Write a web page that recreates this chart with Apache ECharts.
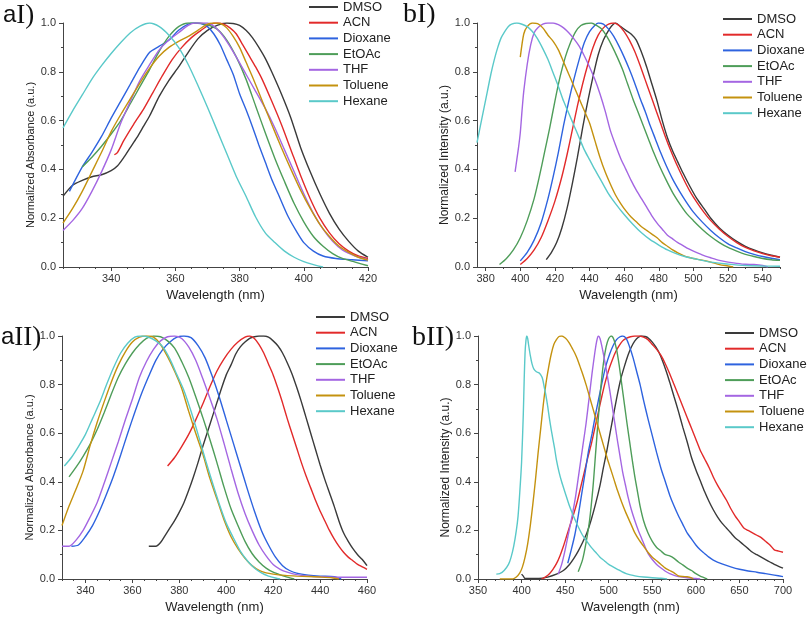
<!DOCTYPE html>
<html>
<head>
<meta charset="utf-8">
<script src="https://cdn.jsdelivr.net/npm/echarts@6/dist/echarts.min.js"></script>
<style>
html,body{margin:0;padding:0;background:#fff;}
#chart{width:808px;height:620px;}
</style>
</head>
<body>
<div id="chart"></div>
<script>
// ---------- categories ----------
const solvents = ['DMSO','ACN','Dioxane','EtOAc','THF','Toluene','Hexane'];

// ---------- tick labels ----------
const yTicks = [0,0.2,0.4,0.6,0.8,1.0];
const aI_xTicks = [340,360,380,400,420];
const aI_xMinor = [325,330,335,345,350,355,365,370,375,385,390,395,405,410,415];
const bI_xTicks = [380,400,420,440,460,480,500,520,540];
const bI_xMinor = [390,410,430,450,470,490,510,530,550];
const aII_xTicks = [340,360,380,400,420,440,460];
const aII_xMinor = [330,335,345,350,355,365,370,375,385,390,395,405,410,415,425,430,435,445,450,455];
const bII_xTicks = [350,400,450,500,550,600,650,700];
const bII_xMinor = [360,370,380,390,410,420,430,440,460,470,480,490,510,520,530,540,560,570,580,590,610,620,630,640,660,670,680,690];

// ---------- panel aI : normalized absorbance ----------
const aI_DMSO = [[325,0.29],[328,0.335],[331,0.355],[334,0.37],[337,0.378],[340,0.395],[342,0.415],[344,0.45],[346,0.49],[348,0.53],[350,0.575],[352,0.62],[355,0.7],[358,0.765],[361,0.82],[364,0.88],[367,0.935],[370,0.97],[373,0.99],[376,1.0],[378,0.998],[380,0.99],[382,0.97],[384,0.94],[386,0.9],[388,0.855],[390,0.8],[393,0.71],[396,0.61],[399,0.49],[402,0.39],[405,0.3],[408,0.22],[411,0.155],[414,0.105],[417,0.065],[420,0.04]];
const aI_ACN = [[341,0.46],[342,0.47],[344,0.52],[347,0.585],[350,0.645],[353,0.715],[356,0.785],[359,0.85],[362,0.9],[365,0.94],[368,0.97],[371,0.995],[373,1.0],[375,0.995],[377,0.98],[379,0.955],[381,0.91],[383,0.865],[385,0.82],[387,0.77],[390,0.68],[393,0.585],[396,0.48],[399,0.375],[402,0.28],[405,0.2],[408,0.14],[411,0.095],[414,0.065],[417,0.045],[420,0.035]];
const aI_Dioxane = [[327,0.31],[331,0.41],[334,0.47],[337,0.535],[340,0.61],[343,0.68],[346,0.75],[349,0.82],[352,0.88],[355,0.905],[358,0.93],[361,0.97],[364,0.995],[366,1.0],[368,0.998],[370,0.985],[372,0.955],[374,0.91],[376,0.85],[378,0.79],[380,0.71],[382,0.645],[384,0.575],[386,0.5],[388,0.43],[390,0.36],[392,0.3],[395,0.21],[398,0.14],[400,0.1],[403,0.065],[406,0.045],[410,0.035],[415,0.03],[420,0.025]];
const aI_EtOAc = [[331,0.41],[334,0.45],[337,0.495],[340,0.545],[343,0.6],[346,0.67],[349,0.74],[352,0.81],[355,0.885],[358,0.945],[361,0.985],[364,1.0],[367,1.0],[370,0.993],[373,0.975],[376,0.93],[379,0.86],[382,0.77],[385,0.66],[388,0.55],[391,0.445],[394,0.35],[397,0.26],[400,0.185],[403,0.125],[406,0.085],[409,0.055],[412,0.035],[416,0.02],[420,0.005]];
const aI_THF = [[325,0.15],[328,0.19],[331,0.24],[334,0.31],[337,0.39],[340,0.48],[343,0.59],[346,0.68],[349,0.765],[352,0.83],[355,0.89],[358,0.93],[361,0.96],[364,0.99],[366,1.0],[370,1.0],[373,0.975],[376,0.925],[379,0.86],[382,0.79],[385,0.72],[388,0.65],[391,0.57],[394,0.48],[397,0.39],[400,0.3],[403,0.22],[406,0.155],[409,0.105],[412,0.07],[416,0.045],[420,0.03]];
const aI_Toluene = [[325,0.18],[328,0.24],[331,0.31],[334,0.39],[337,0.47],[340,0.555],[343,0.625],[346,0.69],[349,0.755],[352,0.815],[355,0.865],[358,0.9],[361,0.925],[364,0.945],[367,0.97],[370,0.995],[372,1.0],[374,0.998],[376,0.98],[378,0.945],[380,0.9],[382,0.84],[384,0.78],[386,0.715],[388,0.65],[390,0.585],[393,0.49],[396,0.4],[399,0.315],[402,0.24],[405,0.175],[408,0.125],[411,0.085],[414,0.06],[417,0.04],[420,0.028]];
const aI_Hexane = [[325,0.57],[328,0.64],[331,0.705],[334,0.77],[337,0.825],[340,0.875],[343,0.92],[346,0.96],[349,0.987],[352,1.0],[355,0.985],[358,0.95],[361,0.9],[364,0.83],[367,0.745],[370,0.655],[373,0.56],[376,0.465],[379,0.37],[382,0.29],[385,0.205],[388,0.14],[391,0.1],[394,0.065],[397,0.04],[400,0.022],[403,0.01],[406,0.0]];

// ---------- panel bI : normalized emission ----------
const bI_DMSO = [[415,0.03],[418,0.06],[421,0.1],[424,0.16],[427,0.24],[430,0.34],[433,0.45],[436,0.57],[439,0.68],[442,0.78],[445,0.87],[448,0.93],[451,0.97],[453,0.99],[455,1.0],[458,0.985],[461,0.97],[464,0.955],[467,0.93],[470,0.88],[473,0.82],[476,0.75],[479,0.68],[482,0.6],[485,0.53],[488,0.475],[491,0.43],[494,0.385],[498,0.33],[502,0.28],[506,0.24],[510,0.2],[515,0.16],[520,0.13],[525,0.105],[530,0.085],[535,0.07],[540,0.058],[545,0.048],[550,0.04]];
const bI_ACN = [[400,0.01],[404,0.035],[408,0.07],[412,0.12],[416,0.19],[420,0.27],[424,0.37],[427,0.46],[430,0.56],[433,0.66],[436,0.75],[439,0.83],[442,0.9],[445,0.95],[448,0.98],[451,0.995],[454,1.0],[457,0.99],[460,0.965],[463,0.93],[466,0.885],[469,0.83],[472,0.77],[475,0.71],[478,0.65],[481,0.59],[484,0.53],[487,0.475],[490,0.425],[494,0.365],[498,0.31],[502,0.265],[506,0.225],[510,0.19],[515,0.155],[520,0.125],[525,0.1],[530,0.08],[535,0.066],[540,0.055],[545,0.046],[550,0.04]];
const bI_Dioxane = [[400,0.025],[404,0.06],[408,0.11],[412,0.18],[416,0.28],[419,0.37],[422,0.47],[425,0.58],[428,0.68],[431,0.77],[434,0.85],[437,0.92],[440,0.965],[443,0.99],[445,1.0],[448,0.995],[451,0.975],[454,0.945],[457,0.905],[460,0.86],[463,0.81],[466,0.755],[469,0.695],[472,0.64],[475,0.58],[478,0.525],[481,0.47],[484,0.42],[488,0.36],[492,0.31],[496,0.265],[500,0.225],[505,0.185],[510,0.15],[515,0.12],[520,0.095],[525,0.078],[530,0.063],[535,0.052],[540,0.043],[545,0.036],[550,0.03]];
const bI_EtOAc = [[388,0.01],[392,0.035],[396,0.07],[400,0.12],[404,0.19],[408,0.28],[411,0.37],[414,0.47],[417,0.57],[420,0.68],[423,0.78],[426,0.86],[429,0.92],[432,0.965],[435,0.99],[438,0.998],[441,1.0],[444,0.99],[447,0.975],[450,0.945],[453,0.905],[456,0.86],[459,0.81],[462,0.75],[465,0.69],[468,0.635],[471,0.58],[474,0.525],[477,0.47],[480,0.42],[484,0.36],[488,0.305],[492,0.26],[496,0.22],[500,0.19],[505,0.155],[510,0.125],[515,0.1],[520,0.08],[525,0.065],[530,0.052],[535,0.043],[540,0.035],[545,0.03],[550,0.027]];
const bI_THF = [[397,0.39],[398,0.44],[399,0.49],[400,0.55],[401,0.64],[402,0.72],[404,0.83],[406,0.91],[408,0.96],[410,0.98],[413,0.995],[416,1.0],[419,1.0],[422,0.993],[425,0.98],[428,0.96],[431,0.935],[434,0.905],[437,0.865],[440,0.82],[443,0.77],[446,0.71],[449,0.64],[452,0.56],[455,0.5],[458,0.445],[461,0.4],[464,0.355],[467,0.315],[470,0.28],[473,0.245],[476,0.21],[479,0.18],[482,0.155],[485,0.13],[488,0.115],[491,0.1],[494,0.088],[497,0.075],[500,0.065],[505,0.05],[510,0.038],[515,0.027],[520,0.02],[525,0.015],[530,0.011],[535,0.01],[540,0.006],[543,0.0]];
const bI_Toluene = [[400,0.86],[402,0.955],[404,0.985],[407,1.0],[410,0.997],[413,0.98],[416,0.95],[419,0.925],[422,0.89],[425,0.84],[428,0.79],[431,0.74],[434,0.69],[437,0.64],[440,0.59],[443,0.52],[446,0.45],[449,0.39],[452,0.34],[455,0.295],[458,0.26],[461,0.23],[464,0.205],[467,0.185],[470,0.165],[473,0.15],[476,0.135],[479,0.12],[482,0.1],[485,0.085],[488,0.07],[491,0.058],[494,0.048],[497,0.04],[500,0.035],[505,0.028],[510,0.02],[515,0.01],[520,0.004],[523,0.0]];
const bI_Hexane = [[375,0.51],[377,0.58],[379,0.65],[381,0.72],[383,0.79],[385,0.85],[387,0.9],[389,0.94],[391,0.965],[393,0.985],[395,0.995],[398,1.0],[401,0.995],[404,0.985],[407,0.965],[410,0.935],[413,0.895],[416,0.85],[419,0.795],[422,0.74],[425,0.68],[428,0.63],[431,0.58],[434,0.53],[437,0.48],[440,0.44],[443,0.4],[447,0.35],[451,0.3],[455,0.26],[460,0.215],[465,0.175],[470,0.14],[475,0.112],[480,0.09],[485,0.07],[490,0.055],[495,0.043],[500,0.035],[510,0.02],[520,0.012],[530,0.006],[540,0.004],[550,0.003]];

// ---------- panel aII : normalized absorbance ----------
const aII_DMSO = [[367,0.135],[370,0.135],[372,0.15],[374,0.18],[376,0.21],[378,0.24],[380,0.275],[382,0.315],[384,0.365],[386,0.42],[388,0.48],[390,0.545],[392,0.605],[394,0.665],[396,0.725],[398,0.785],[400,0.84],[402,0.88],[404,0.925],[406,0.955],[408,0.975],[410,0.99],[412,0.997],[414,1.0],[416,1.0],[418,0.995],[420,0.98],[422,0.96],[424,0.93],[426,0.89],[428,0.845],[430,0.79],[432,0.73],[434,0.665],[436,0.6],[438,0.535],[440,0.47],[442,0.41],[444,0.355],[446,0.3],[448,0.24],[450,0.19],[452,0.155],[454,0.125],[456,0.1],[458,0.08],[460,0.055]];
const aII_ACN = [[375,0.465],[378,0.5],[381,0.545],[384,0.595],[387,0.655],[390,0.72],[393,0.79],[396,0.855],[399,0.905],[402,0.945],[405,0.975],[408,0.995],[410,1.0],[412,0.99],[414,0.965],[416,0.93],[418,0.885],[420,0.84],[422,0.785],[424,0.725],[426,0.66],[428,0.6],[430,0.54],[432,0.48],[434,0.425],[436,0.375],[438,0.325],[440,0.28],[442,0.24],[444,0.2],[446,0.165],[448,0.135],[450,0.11],[452,0.09],[454,0.075],[456,0.06],[458,0.05],[460,0.04]];
const aII_Dioxane = [[334,0.135],[337,0.14],[340,0.175],[343,0.22],[346,0.28],[349,0.35],[352,0.425],[355,0.51],[358,0.6],[361,0.685],[364,0.765],[367,0.835],[370,0.9],[373,0.945],[376,0.975],[379,0.995],[382,1.0],[385,0.993],[388,0.96],[391,0.91],[394,0.835],[397,0.75],[400,0.655],[403,0.56],[406,0.465],[409,0.37],[412,0.28],[415,0.2],[418,0.14],[421,0.09],[424,0.055],[427,0.035],[430,0.024],[435,0.016],[440,0.012],[446,0.01],[449,0.0]];
const aII_EtOAc = [[333,0.42],[336,0.46],[339,0.505],[342,0.555],[345,0.615],[348,0.685],[351,0.76],[354,0.83],[357,0.885],[360,0.93],[363,0.965],[366,0.99],[369,1.0],[372,0.997],[375,0.98],[378,0.95],[381,0.895],[384,0.83],[387,0.75],[390,0.665],[393,0.575],[396,0.48],[399,0.38],[402,0.29],[405,0.22],[408,0.155],[411,0.105],[414,0.07],[417,0.045],[420,0.028],[423,0.017],[426,0.008],[429,0.0]];
const aII_THF = [[330,0.135],[333,0.135],[336,0.16],[339,0.2],[342,0.255],[345,0.315],[348,0.395],[351,0.48],[354,0.565],[357,0.655],[360,0.74],[363,0.83],[366,0.895],[369,0.945],[372,0.98],[375,0.997],[378,1.0],[381,0.99],[384,0.955],[387,0.9],[390,0.825],[393,0.745],[396,0.66],[399,0.56],[402,0.455],[405,0.355],[408,0.27],[411,0.2],[414,0.14],[417,0.095],[420,0.06],[423,0.04],[426,0.028],[430,0.018],[435,0.012],[440,0.009],[450,0.007],[460,0.007]];
const aII_Toluene = [[330,0.22],[333,0.3],[336,0.37],[339,0.445],[342,0.55],[345,0.645],[348,0.73],[351,0.81],[354,0.88],[357,0.935],[360,0.975],[363,0.995],[366,1.0],[369,0.995],[372,0.965],[375,0.915],[378,0.855],[381,0.785],[384,0.69],[387,0.6],[390,0.515],[393,0.415],[396,0.33],[399,0.245],[402,0.175],[405,0.125],[408,0.085],[411,0.055],[414,0.035],[417,0.025],[420,0.02],[425,0.015],[430,0.012],[435,0.01],[440,0.008],[445,0.005],[448,0.0]];
const aII_Hexane = [[331,0.465],[334,0.5],[337,0.545],[340,0.595],[343,0.66],[346,0.725],[349,0.8],[352,0.87],[355,0.93],[358,0.97],[361,0.995],[364,1.0],[367,0.995],[370,0.98],[373,0.955],[376,0.905],[379,0.84],[382,0.775],[385,0.69],[388,0.595],[391,0.495],[394,0.4],[397,0.31],[400,0.23],[403,0.17],[406,0.115],[409,0.075],[412,0.045],[415,0.025],[418,0.012],[421,0.004],[423,0.0]];

// ---------- panel bII : normalized emission ----------
const bII_DMSO = [[400,0.02],[402,0.012],[404,0.002],[420,0.002],[430,0.008],[440,0.02],[448,0.035],[455,0.06],[460,0.085],[465,0.115],[470,0.15],[475,0.19],[480,0.245],[485,0.31],[490,0.385],[494,0.46],[498,0.53],[502,0.61],[506,0.685],[510,0.76],[514,0.825],[518,0.875],[522,0.92],[526,0.955],[530,0.98],[534,0.995],[538,1.0],[542,0.998],[546,0.99],[550,0.975],[554,0.955],[558,0.93],[562,0.895],[566,0.855],[570,0.81],[575,0.75],[580,0.69],[585,0.625],[590,0.565],[595,0.5],[600,0.45],[605,0.405],[610,0.36],[615,0.32],[620,0.285],[625,0.255],[630,0.23],[635,0.21],[640,0.19],[645,0.17],[650,0.155],[655,0.14],[660,0.125],[665,0.11],[670,0.1],[675,0.09],[680,0.08],[685,0.07],[690,0.06],[695,0.052],[700,0.045]];
const bII_ACN = [[423,0.0],[428,0.01],[432,0.022],[436,0.04],[440,0.063],[444,0.095],[448,0.135],[452,0.18],[456,0.225],[460,0.27],[464,0.32],[468,0.38],[472,0.44],[476,0.5],[480,0.555],[484,0.62],[488,0.685],[492,0.75],[496,0.81],[500,0.86],[504,0.9],[508,0.935],[512,0.96],[516,0.98],[520,0.99],[525,0.997],[530,1.0],[535,1.0],[540,0.995],[545,0.985],[550,0.965],[555,0.945],[560,0.92],[565,0.885],[570,0.845],[575,0.8],[580,0.755],[585,0.71],[590,0.665],[595,0.62],[600,0.575],[605,0.53],[610,0.495],[615,0.46],[620,0.42],[625,0.385],[630,0.355],[635,0.325],[640,0.29],[645,0.26],[650,0.235],[655,0.21],[660,0.2],[665,0.19],[670,0.18],[675,0.17],[680,0.155],[685,0.14],[690,0.12],[695,0.115],[700,0.11]];
const bII_Dioxane = [[453,0.065],[457,0.12],[461,0.18],[465,0.26],[469,0.35],[473,0.44],[477,0.53],[481,0.6],[485,0.68],[489,0.75],[493,0.82],[497,0.88],[501,0.925],[505,0.96],[509,0.985],[513,0.997],[516,1.0],[520,0.99],[524,0.955],[528,0.91],[532,0.855],[536,0.8],[540,0.735],[545,0.66],[550,0.59],[555,0.52],[560,0.455],[565,0.4],[570,0.345],[575,0.3],[580,0.26],[585,0.225],[590,0.19],[595,0.165],[600,0.14],[605,0.12],[610,0.105],[615,0.09],[620,0.078],[630,0.062],[640,0.05],[650,0.04],[660,0.033],[670,0.028],[680,0.022],[690,0.016],[700,0.01]];
const bII_EtOAc = [[465,0.03],[470,0.08],[474,0.15],[478,0.24],[482,0.38],[485,0.52],[488,0.66],[491,0.79],[494,0.89],[497,0.955],[500,0.99],[503,1.0],[506,0.985],[509,0.945],[512,0.88],[515,0.8],[518,0.72],[521,0.64],[524,0.565],[527,0.49],[530,0.42],[533,0.36],[536,0.3],[540,0.24],[545,0.19],[550,0.155],[555,0.13],[560,0.115],[565,0.1],[570,0.095],[575,0.085],[580,0.07],[585,0.058],[590,0.045],[595,0.035],[600,0.022],[605,0.012],[610,0.005],[613,0.0]];
const bII_THF = [[442,0.02],[446,0.06],[450,0.12],[454,0.19],[458,0.26],[462,0.34],[466,0.44],[470,0.54],[474,0.64],[478,0.76],[481,0.85],[484,0.93],[486,0.975],[488,1.0],[490,0.99],[492,0.96],[495,0.905],[498,0.845],[501,0.78],[504,0.71],[507,0.64],[510,0.57],[513,0.505],[516,0.44],[519,0.39],[522,0.34],[526,0.285],[530,0.24],[534,0.2],[538,0.165],[542,0.13],[546,0.1],[550,0.08],[555,0.06],[560,0.045],[565,0.032],[570,0.022],[575,0.015],[580,0.01],[590,0.005],[600,0.002],[605,0.0]];
const bII_Toluene = [[375,0.0],[390,0.0],[394,0.008],[398,0.025],[401,0.05],[404,0.09],[407,0.145],[410,0.22],[413,0.31],[416,0.41],[419,0.52],[422,0.62],[425,0.72],[428,0.805],[431,0.87],[434,0.925],[437,0.965],[440,0.985],[443,0.998],[446,1.0],[449,0.995],[452,0.985],[455,0.97],[458,0.95],[461,0.93],[464,0.905],[467,0.875],[470,0.845],[474,0.8],[478,0.75],[482,0.7],[486,0.65],[490,0.6],[494,0.55],[498,0.5],[502,0.455],[506,0.41],[510,0.365],[515,0.315],[520,0.27],[525,0.23],[530,0.19],[535,0.16],[540,0.135],[545,0.11],[550,0.09],[555,0.075],[560,0.06],[565,0.045],[570,0.035],[575,0.025],[580,0.013],[585,0.01],[590,0.009],[595,0.005],[597,0.0]];
const bII_Hexane = [[371,0.02],[375,0.022],[380,0.035],[385,0.06],[388,0.09],[391,0.135],[394,0.2],[396,0.26],[398,0.36],[400,0.48],[402,0.68],[403,0.82],[404,0.93],[405,0.98],[406,1.0],[407,0.99],[408,0.965],[410,0.92],[412,0.885],[414,0.865],[417,0.853],[420,0.848],[422,0.84],[424,0.825],[426,0.79],[428,0.755],[430,0.71],[432,0.66],[434,0.615],[436,0.575],[438,0.535],[440,0.49],[443,0.44],[446,0.4],[450,0.355],[455,0.3],[460,0.255],[465,0.215],[470,0.18],[475,0.155],[480,0.13],[485,0.11],[490,0.09],[495,0.075],[500,0.06],[505,0.05],[510,0.04],[515,0.03],[520,0.022],[525,0.017],[530,0.013],[540,0.008],[550,0.005],[560,0.003],[567,0.0]];

// ---------- styling (kept separate from data) ----------
const solventColors = ['#3a3a3a','#e22a2a','#2e63df','#4e9d59','#a466e2','#c4920f','#5ac9c9'];
const FONT = 'Liberation Sans';
const panels = [
  {grid:{left:63, top:23, width:305, height:244}, xmin:325, xmax:420, ticks:aI_xTicks, minor:aI_xMinor, yname:'Normalized Absorbance (a.u.)', ynameSize:11,
   data:[aI_DMSO,aI_ACN,aI_Dioxane,aI_EtOAc,aI_THF,aI_Toluene,aI_Hexane], legend:{left:309, top:0}},
  {grid:{left:477, top:23, width:303, height:244}, xmin:375, xmax:550, ticks:bI_xTicks, minor:bI_xMinor, yname:'Normalized Intensity (a.u.)', ynameSize:12,
   data:[bI_DMSO,bI_ACN,bI_Dioxane,bI_EtOAc,bI_THF,bI_Toluene,bI_Hexane], legend:{left:723, top:12}},
  {grid:{left:62, top:336, width:305, height:243}, xmin:330, xmax:460, ticks:aII_xTicks, minor:aII_xMinor, yname:'Normalized Absorbance (a.u.)', ynameSize:11,
   data:[aII_DMSO,aII_ACN,aII_Dioxane,aII_EtOAc,aII_THF,aII_Toluene,aII_Hexane], legend:{left:316, top:310}},
  {grid:{left:478, top:336, width:305, height:243}, xmin:350, xmax:700, ticks:bII_xTicks, minor:bII_xMinor, yname:'Normalized Intensity (a.u.)', ynameSize:12,
   data:[bII_DMSO,bII_ACN,bII_Dioxane,bII_EtOAc,bII_THF,bII_Toluene,bII_Hexane], legend:{left:725, top:326}}
];

const axisColor = '#444';
const labelStyle = {fontFamily:FONT, fontSize:11, color:'#333'};
const grids = [], xAxes = [], yAxes = [], series = [], legends = [];
panels.forEach((p, i) => {
  grids.push(Object.assign({containLabel:false}, p.grid));
  xAxes.push({
    type:'value', gridIndex:i, position:'bottom', min:p.xmin, max:p.xmax,
    name:'Wavelength (nm)', nameLocation:'middle', nameGap:22,
    nameTextStyle:{fontFamily:FONT, fontSize:13, color:'#222'},
    axisLine:{show:true, onZero:false, lineStyle:{color:axisColor, width:1}},
    axisTick:{show:true, inside:false, length:4, customValues:p.ticks, lineStyle:{color:axisColor}},
    axisLabel:Object.assign({show:true, margin:6, customValues:p.ticks, formatter:v=>String(v)}, labelStyle),
    splitLine:{show:false}
  });
  xAxes.push({
    type:'value', gridIndex:i, position:'bottom', min:p.xmin, max:p.xmax,
    axisLine:{show:false, onZero:false},
    axisTick:{show:true, inside:false, length:2, customValues:p.minor, lineStyle:{color:axisColor}},
    axisLabel:{show:false}, splitLine:{show:false}
  });
  yAxes.push({
    type:'value', gridIndex:i, min:0, max:1, interval:0.2,
    name:p.yname, nameLocation:'middle', nameGap:25, nameRotate:90,
    nameTextStyle:{fontFamily:FONT, fontSize:p.ynameSize, color:'#222', padding:[0,20,0,0]},
    axisLine:{show:true, onZero:false, lineStyle:{color:axisColor, width:1}},
    axisTick:{show:true, inside:false, length:4, lineStyle:{color:axisColor}},
    minorTick:{show:true, splitNumber:2, length:2, lineStyle:{color:axisColor}},
    axisLabel:Object.assign({margin:7, formatter:v=>v.toFixed(1)}, labelStyle),
    splitLine:{show:false}, minorSplitLine:{show:false}
  });
  p.data.forEach((d, k) => {
    series.push({
      type:'line', name:solvents[k], xAxisIndex:2*i, yAxisIndex:i,
      data:d, showSymbol:false, symbol:'none', smooth:0.25,
      lineStyle:{color:solventColors[k], width:1.4}, itemStyle:{color:solventColors[k]},
      emphasis:{disabled:true}
    });
  });
  legends.push({
    orient:'vertical', left:p.legend.left, top:p.legend.top, padding:0,
    icon:'rect', itemWidth:29, itemHeight:2, itemGap:1.7, selectedMode:false,
    data:solvents.slice(),
    textStyle:{fontFamily:FONT, fontSize:13, color:'#222', lineHeight:14}
  });
});

const serif = 'Liberation Serif';
const graphics = [
  {type:'text', left:3, top:2, style:{text:'{s|a}{r|I)}', rich:{s:{fontFamily:FONT, fontSize:24, fill:'#111'}, r:{fontFamily:serif, fontSize:27, fill:'#111'}}}},
  {type:'text', left:403, top:1, style:{text:'bI)', fontFamily:serif, fontSize:28, fill:'#111'}},
  {type:'text', left:1, top:324, style:{text:'{s|a}{r|II)}', rich:{s:{fontFamily:FONT, fontSize:24, fill:'#111'}, r:{fontFamily:serif, fontSize:27, fill:'#111'}}}},
  {type:'text', left:412, top:324, style:{text:'bII)', fontFamily:serif, fontSize:28, fill:'#111'}}
];

const chart = echarts.init(document.getElementById('chart'), null, {renderer:'canvas'});
chart.setOption({
  animation:false,
  backgroundColor:'#ffffff',
  grid:grids, xAxis:xAxes, yAxis:yAxes, series:series, legend:legends,
  graphic:graphics
});
</script>
</body>
</html>
